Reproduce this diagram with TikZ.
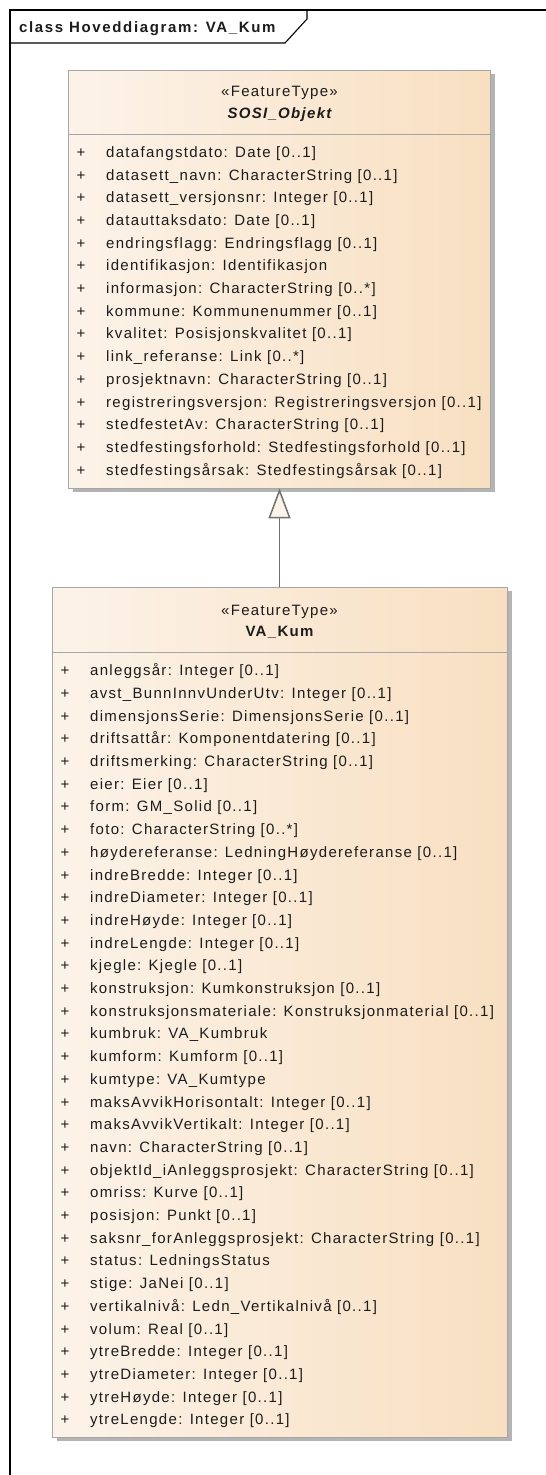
\documentclass[tikz,border=0pt]{standalone}
\usepackage{fontspec}
\setmainfont{Liberation Sans}[LetterSpace=8.7]
\usetikzlibrary{arrows.meta}
\definecolor{boxL}{HTML}{FCF3E9}
\definecolor{boxR}{HTML}{F8DFC1}
\definecolor{boxline}{HTML}{A6A6A6}
\definecolor{shadowc}{HTML}{B4B4B4}
\definecolor{txt}{HTML}{1C1C1C}
\definecolor{conn}{HTML}{707070}
\definecolor{tipfill}{HTML}{FBF3E8}
\begin{document}
\begin{tikzpicture}[x=1pt,y=-1pt, font=\fontsize{15}{18}\selectfont, text=txt,
  classbox/.style={draw=boxline, line width=0.8pt, left color=boxL, right color=boxR, inner sep=0pt},
  shadowbox/.style={fill=shadowc},
  sepline/.style={draw=boxline, line width=0.8pt},
  attr/.style={anchor=base west, inner sep=0pt},
  plus/.style={anchor=base, inner sep=0pt},
  hdr/.style={anchor=base, inner sep=0pt},
  gen/.style={draw=conn, line width=1.5pt, -{Triangle[length=30pt,width=22pt,fill=tipfill]}},
  frameline/.style={draw=black, line width=1.6pt},
  tabline/.style={draw=black, line width=1.1pt}]
\useasboundingbox (0,0) rectangle (546,1475);
\fill[white] (0,0) rectangle (546,1475);
% frame
\draw[frameline] (546,10) -- (10,10) -- (10,1475);
\draw[tabline] (10,43) -- (285,43) -- (307,19) -- (307,10);
\node[anchor=base west, inner sep=0pt, font=\fontsize{15}{18}\selectfont\bfseries\addfontfeature{LetterSpace=11}] (title) at (19,32) {class Hoveddiagram: VA\_Kum};
% SOSI_Objekt
\fill[shadowbox] (72.5,74) rectangle (494.5,492);
\node[classbox, minimum width=422pt, minimum height=418pt] (sosi) at (279.5,279) {};
\draw[sepline] (68.5,134) -- (490.5,134);
\node[hdr] (sosiSt) at (279.5,96.7) {«FeatureType»};
\node[hdr, font=\fontsize{15}{18}\selectfont\bfseries\itshape] (sosiNm) at (279.5,118.3) {SOSI\_Objekt};
\foreach \t [count=\i from 0] in {
  datafangstdato: Date [0..1],
  datasett\_navn: CharacterString [0..1],
  datasett\_versjonsnr: Integer [0..1],
  datauttaksdato: Date [0..1],
  endringsflagg: Endringsflagg [0..1],
  identifikasjon: Identifikasjon,
  informasjon: CharacterString [0..*],
  kommune: Kommunenummer [0..1],
  kvalitet: Posisjonskvalitet [0..1],
  link\_referanse: Link [0..*],
  prosjektnavn: CharacterString [0..1],
  registreringsversjon: Registreringsversjon [0..1],
  stedfestetAv: CharacterString [0..1],
  stedfestingsforhold: Stedfestingsforhold [0..1],
  stedfestingsårsak: Stedfestingsårsak [0..1]} {
  \node[plus] (sp\i) at (81,{157.3+22.7*\i}) {+};
  \node[attr] (sa\i) at (106,{157.3+22.7*\i}) {\t};
}
% VA_Kum
\fill[shadowbox] (56.5,591) rectangle (511.5,1441);
\node[classbox, minimum width=455pt, minimum height=850pt] (vakum) at (279.5,1012) {};
\draw[sepline] (52,652) -- (507,652);
\node[hdr] (vaSt) at (279.5,615) {«FeatureType»};
\node[hdr, font=\fontsize{15}{18}\selectfont\bfseries] (vaNm) at (279.5,636.7) {VA\_Kum};
\foreach \t [count=\i from 0] in {
  anleggsår: Integer [0..1],
  avst\_BunnInnvUnderUtv: Integer [0..1],
  dimensjonsSerie: DimensjonsSerie [0..1],
  driftsattår: Komponentdatering [0..1],
  driftsmerking: CharacterString [0..1],
  eier: Eier [0..1],
  form: GM\_Solid [0..1],
  foto: CharacterString [0..*],
  høydereferanse: LedningHøydereferanse [0..1],
  indreBredde: Integer [0..1],
  indreDiameter: Integer [0..1],
  indreHøyde: Integer [0..1],
  indreLengde: Integer [0..1],
  kjegle: Kjegle [0..1],
  konstruksjon: Kumkonstruksjon [0..1],
  konstruksjonsmateriale: Konstruksjonmaterial [0..1],
  kumbruk: VA\_Kumbruk,
  kumform: Kumform [0..1],
  kumtype: VA\_Kumtype,
  maksAvvikHorisontalt: Integer [0..1],
  maksAvvikVertikalt: Integer [0..1],
  navn: CharacterString [0..1],
  objektId\_iAnleggsprosjekt: CharacterString [0..1],
  omriss: Kurve [0..1],
  posisjon: Punkt [0..1],
  saksnr\_forAnleggsprosjekt: CharacterString [0..1],
  status: LedningsStatus,
  stige: JaNei [0..1],
  vertikalnivå: Ledn\_Vertikalnivå [0..1],
  volum: Real [0..1],
  ytreBredde: Integer [0..1],
  ytreDiameter: Integer [0..1],
  ytreHøyde: Integer [0..1],
  ytreLengde: Integer [0..1]} {
  \node[plus] (vp\i) at (65,{675.7+22.7*\i}) {+};
  \node[attr] (va\i) at (90,{675.7+22.7*\i}) {\t};
}
% generalization
\draw[gen] (vakum.north) -- (sosi.south);
\end{tikzpicture}
\end{document}
